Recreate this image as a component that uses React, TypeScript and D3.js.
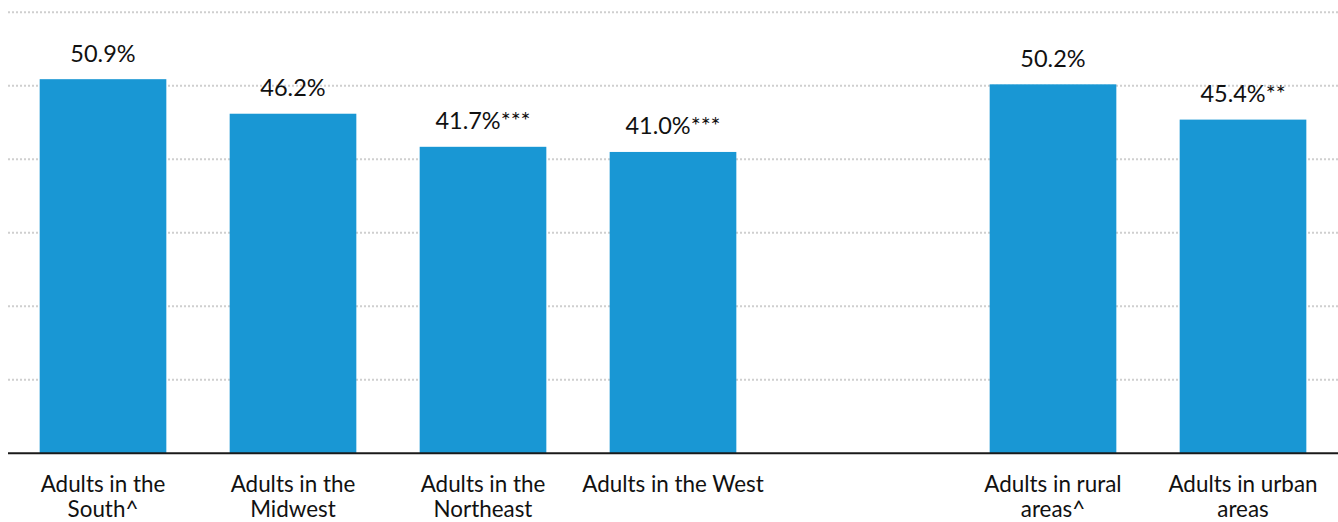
import React from "react";
import * as d3 from "d3";

// Share of adults by region and by rural/urban residence
const categories = ["South", "Midwest", "Northeast", "West", "", "Rural", "Urban"];
const labelLines = [
  ["Adults in the", "South^"],
  ["Adults in the", "Midwest"],
  ["Adults in the", "Northeast"],
  ["Adults in the West"],
  [],
  ["Adults in rural", "areas^"],
  ["Adults in urban", "areas"],
];
const values: (number | null)[] = [50.9, 46.2, 41.7, 41.0, null, 50.2, 45.4];
const significance = ["", "", "***", "***", "", "", "**"];
const gridTicks = [10, 20, 30, 40, 50, 60];

const W = 1338;
const H = 522;
const left = 8;
const right = 1338;
const baseY = 453.3;
const topY = 12.3;

const FONT = "Lato, 'Noto Sans', sans-serif";
const BAR = "#1997d4";

export default function App() {
  const x = d3
    .scaleBand<string>()
    .domain(categories.map((c, i) => `${i}-${c}`))
    .range([left, right])
    .paddingInner(1 / 3)
    .paddingOuter(1 / 6);
  const y = d3.scaleLinear().domain([0, 60]).range([baseY, topY]);
  const keys = x.domain();
  const bw = x.bandwidth();

  return (
    <svg
      width={W}
      height={H}
      style={{ position: "absolute", left: 0, top: 0, background: "#fff" }}
    >
      {gridTicks.map((t) => (
        <line
          key={t}
          x1={left}
          x2={right}
          y1={y(t)}
          y2={y(t)}
          stroke="#cfcfcf"
          strokeWidth={2}
          strokeDasharray="2 2"
        />
      ))}
      {keys.map((k, i) => {
        const v = values[i];
        if (v == null) return null;
        const x0 = x(k)!;
        return (
          <g key={k}>
            <rect x={x0} y={y(v)} width={bw} height={baseY - y(v)} fill={BAR} />
            <text
              x={x0 + bw / 2}
              y={y(v) - 17.5}
              textAnchor="middle"
              fontFamily={FONT}
              fontWeight={400}
              fontSize={23.5}
              fill="#111"
            >
              {`${v.toFixed(1)}%${significance[i]}`}
            </text>
          </g>
        );
      })}
      <line x1={left} x2={right} y1={baseY} y2={baseY} stroke="#1a1a1a" strokeWidth={2} />
      {keys.map((k, i) => (
        <text
          key={`l-${k}`}
          x={x(k)! + bw / 2}
          y={491.7}
          textAnchor="middle"
          fontFamily={FONT}
          fontWeight={400}
          fontSize={22.4}
          fill="#111"
        >
          {labelLines[i].map((line, j) => (
            <tspan key={j} x={x(k)! + bw / 2} dy={j === 0 ? 0 : 25}>
              {line}
            </tspan>
          ))}
        </text>
      ))}
    </svg>
  );
}
